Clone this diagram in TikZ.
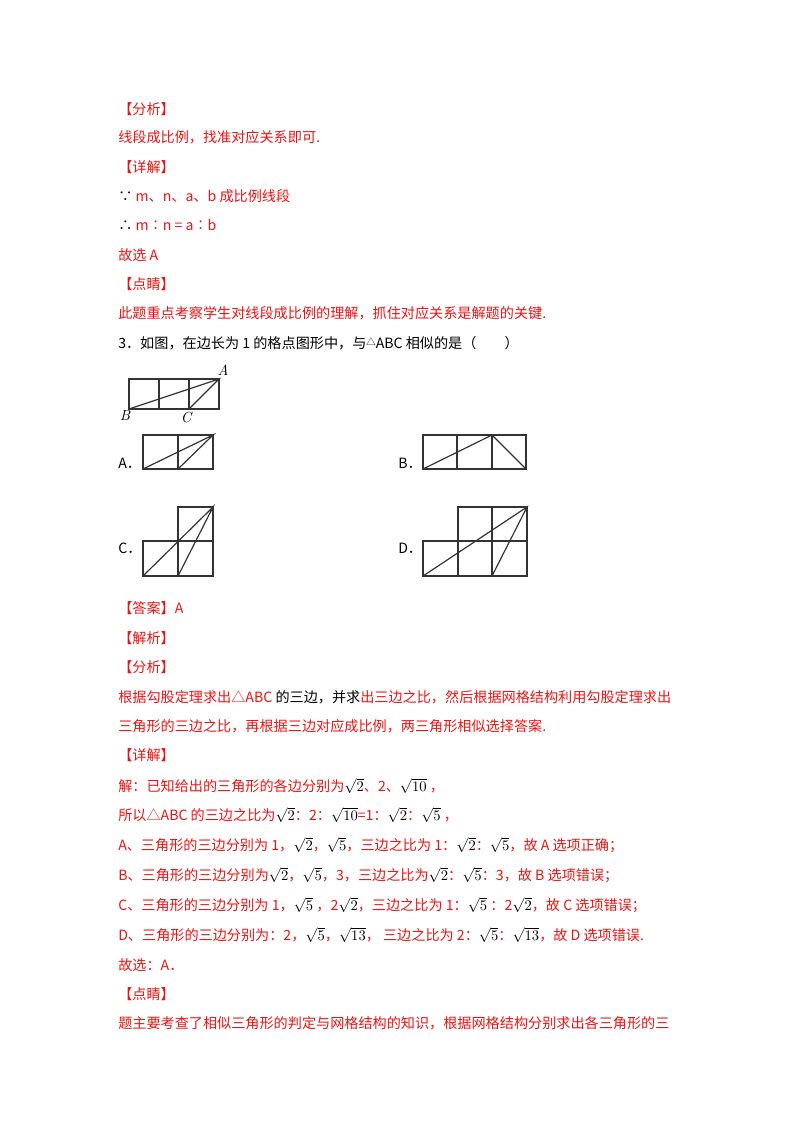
\documentclass[tikz,border=0pt]{standalone}
\usepackage{fontspec}
\setmainfont{Noto Sans CJK SC}
\newfontfamily\lmr{Latin Modern Roman}
\definecolor{rd}{RGB}{235,20,20}
\begin{document}
\begin{tikzpicture}[x=0.75pt,y=-0.75pt,
 t/.style={anchor=west,inner sep=0pt,font=\fontsize{10.6pt}{12pt}\selectfont,text=rd},
 k/.style={t,text=black},
 g/.style={line width=0.9pt,black!80},
 lab/.style={inner sep=0pt,font=\lmr\itshape\fontsize{11pt}{11pt}\selectfont}]
\useasboundingbox (0,0) rectangle (800,1132);
\newcommand{\sq}[1]{\textcolor{black}{$\sqrt{#1}$}}
\node[t] (l1) at (118,109) {【分析】};
\node[t] (l2) at (118,137) {线段成比例，找准对应关系即可.};
\node[t] (l3) at (118,167) {【详解】};
\node[t] (l4) at (118,196) {\textcolor{black}{∵} m、n、a、b 成比例线段};
\node[t] (l5) at (118,225) {\textcolor{black}{∴} m∶n = a∶b};
\node[t] (l6) at (118,255) {故选 A};
\node[t] (l7) at (118,284) {【点睛】};
\node[t] (l8) at (118,313) {此题重点考察学生对线段成比例的理解，抓住对应关系是解题的关键.};
\node[k] (l9) at (118,343) {3．如图，在边长为 1 的格点图形中，与\raisebox{0.3ex}{\scriptsize △}ABC 相似的是（\quad\quad）};
% reference figure
\draw[g] (129,379) rectangle (219,409);
\foreach \x in {159,189}{\draw[g] (\x,379)--(\x,409);}
\coordinate (A) at (219,379); \coordinate (B) at (129,409); \coordinate (C) at (189,409);
\draw[g] (B)--(A)--(C);
\node[lab] (la) at (223,370) {A};
\node[lab] (lb) at (125,415) {B};
\node[lab] (lc) at (186,417) {C};
% A
\node[k] (oa) at (118,463) {A．};
\draw[g] (143,435) rectangle (213,469) (178,435)--(178,469);
\draw[g] (143,469)--(213,435)--(178,469);
% B
\node[k] (ob) at (398,463) {B．};
\draw[g] (423,435) rectangle (526,469) (457,435)--(457,469) (492,435)--(492,469);
\draw[g] (423,469)--(492,435)--(526,469);
% C
\node[k] (oc) at (118,548) {C．};
\draw[g] (143,541) rectangle (213,576) (178,507) rectangle (213,576);
\draw[g] (143,576)--(213,507)--(178,576);
% D
\node[k] (od) at (398,548) {D．};
\draw[g] (423,541) rectangle (527,576) (458,507) rectangle (527,576) (492,507)--(492,576);
\draw[g] (423,576)--(527,507)--(492,576);
% answer
\node[t] (m1) at (118,608) {【答案】A};
\node[t] (m2) at (118,638) {【解析】};
\node[t] (m3) at (118,667) {【分析】};
\node[t] (m4) at (118,697) {根据勾股定理求出△ABC \textcolor{black}{的三边，并求}出三边之比，然后根据网格结构利用勾股定理求出};
\node[t] (m5) at (118,726) {三角形的三边之比，再根据三边对应成比例，两三角形相似选择答案.};
\node[t] (m6) at (118,755) {【详解】};
\node[t] (m7) at (118,786) {解：已知给出的三角形的各边分别为\sq{2}、2、\sq{10} ，};
\node[t] (m8) at (118,815) {所以△ABC 的三边之比为\sq{2}：2：\sq{10}=1：\sq{2}：\sq{5} ，};
\node[t] (m9) at (118,845) {A、三角形的三边分别为 1，\sq{2}，\sq{5}，三边之比为 1：\sq{2}：\sq{5}，故 A 选项正确；};
\node[t] (m10) at (118,875) {B、三角形的三边分别为\sq{2}，\sq{5}，3，三边之比为\sq{2}：\sq{5}：3，故 B 选项错误；};
\node[t] (m11) at (118,905) {C、三角形的三边分别为 1，\sq{5} ，2\sq{2}，三边之比为 1：\sq{5} ：2\sq{2}，故 C 选项错误；};
\node[t] (m12) at (118,935) {D、三角形的三边分别为：2，\sq{5}，\sq{13}，\ 三边之比为 2：\sq{5}：\sq{13}，故 D 选项错误.};
\node[t] (m13) at (118,965) {故选：A．};
\node[t] (m14) at (118,994) {【点睛】};
\node[t] (m15) at (118,1023) {题主要考查了相似三角形的判定与网格结构的知识，根据网格结构分别求出各三角形的三};
\end{tikzpicture}
\end{document}
